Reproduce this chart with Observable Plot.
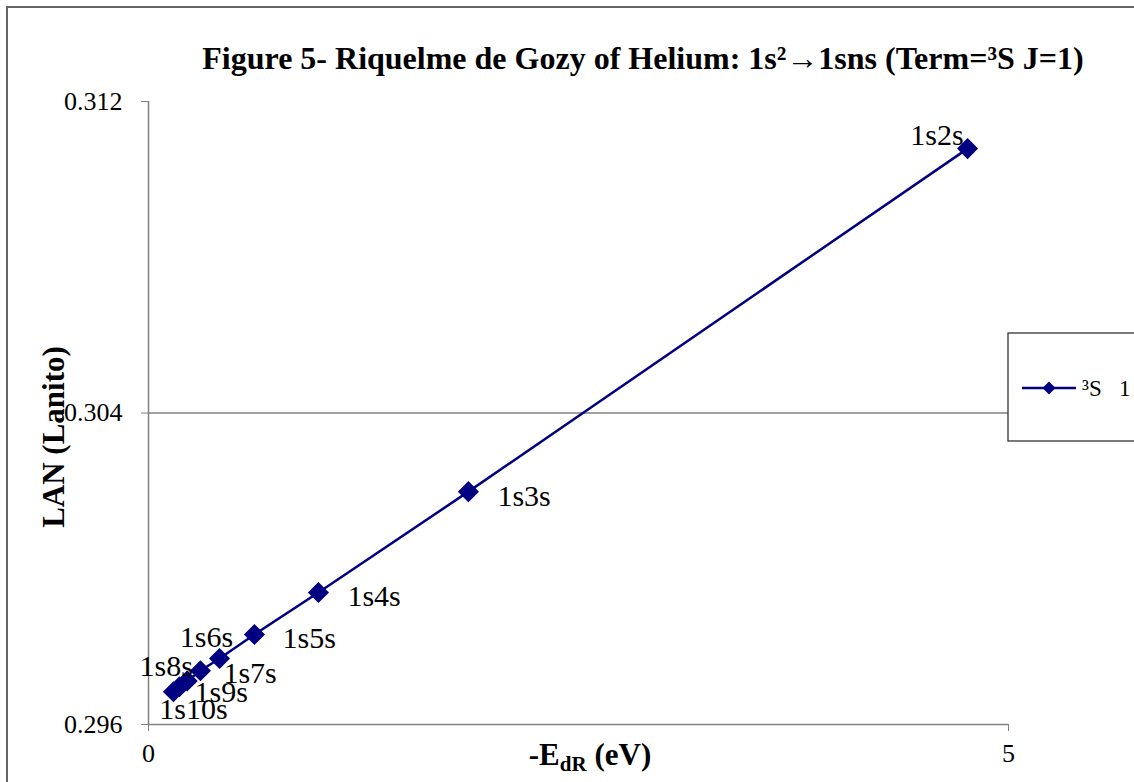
<!DOCTYPE html>
<html>
<head>
<meta charset="utf-8">
<script src="https://cdn.jsdelivr.net/npm/d3@7"></script>
<script src="https://cdn.jsdelivr.net/npm/@observablehq/plot@0.6"></script>
<style>
  html, body { margin: 0; padding: 0; background: white; }
  #chart svg { display: block; }
  #chart svg text { font-family: "Times New Roman", "Liberation Serif", Times, serif; }
</style>
</head>
<body>
<div id="chart"></div>
<script>
// ---- data ----
const states = ["1s2s", "1s3s", "1s4s", "1s5s", "1s6s", "1s7s", "1s8s", "1s9s", "1s10s"];
const energy = [4.762, 1.860, 0.988, 0.616, 0.413, 0.302, 0.225, 0.180, 0.145];   // -E_dR (eV)
const lan = [0.31079, 0.30198, 0.29939, 0.29831, 0.297695, 0.29738, 0.29712, 0.29697, 0.29684];
const xTicks = [0, 5];
const yTicks = [0.296, 0.304, 0.312];
const seriesName = "³S   1";

// label placement (style only)
const labelPlacement = [
  {anchor: "end",    dx: -4,  dy: -13},
  {anchor: "start",  dx: 29,  dy: 5},
  {anchor: "start",  dx: 29,  dy: 4},
  {anchor: "start",  dx: 28,  dy: 4},
  {anchor: "middle", dx: -13, dy: -21},
  {anchor: "start",  dx: 23,  dy: 3},
  {anchor: "middle", dx: -21, dy: -14},
  {anchor: "start",  dx: 15,  dy: 6},
  {anchor: "middle", dx: 20,  dy: 18}
];

const data = states.map((s, i) => ({state: s, x: energy[i], y: lan[i]}));
const navy = "#000080";
const axisGray = "#808080";
const serif = "Times New Roman, Liberation Serif, Times, serif";

const labelMarks = data.map((d, i) => Plot.text([d], {
  x: "x", y: "y", text: "state",
  textAnchor: labelPlacement[i].anchor,
  dx: labelPlacement[i].dx, dy: labelPlacement[i].dy,
  fontSize: 30, fill: "black"
}));

const svg = Plot.plot({
  width: 1134,
  height: 782,
  marginLeft: 148,
  marginRight: 126,
  marginTop: 101,
  marginBottom: 58,
  style: {fontFamily: serif, fontSize: "26px", background: "white", color: "black", overflow: "visible"},
  x: {domain: [0, 5]},
  y: {domain: [0.296, 0.312]},
  marks: [
    Plot.ruleY([0.304], {stroke: axisGray, strokeWidth: 1.3}),
    Plot.ruleX([0], {stroke: axisGray, strokeWidth: 1.5}),
    Plot.ruleY([0.296], {stroke: axisGray, strokeWidth: 1.5}),
    Plot.axisY({ticks: yTicks, tickSize: 7, tickPadding: 19, tickFormat: d => d.toFixed(3), stroke: axisGray, fill: "black", label: null, fontSize: 26}),
    Plot.axisX({ticks: xTicks, tickSize: 7, tickPadding: 12, tickFormat: d => String(d), stroke: axisGray, fill: "black", label: null, fontSize: 26}),
    Plot.line(data, {x: "x", y: "y", stroke: navy, strokeWidth: 2.5}),
    Plot.dot(data, {x: "x", y: "y", symbol: "diamond2", r: 9.5, fill: navy, stroke: "none"}),
    ...labelMarks
  ]
});

const s = d3.select(svg);

// outer chart border (top & left visible)
s.append("rect")
  .attr("x", 7).attr("y", 7).attr("width", 1200).attr("height", 900)
  .attr("fill", "none").attr("stroke", "#666").attr("stroke-width", 2);

// title
s.append("text")
  .attr("x", 643).attr("y", 69)
  .attr("text-anchor", "middle")
  .attr("font-weight", "bold").attr("font-size", 32)
  .attr("fill", "black")
  .text("Figure 5- Riquelme de Gozy of Helium: 1s²→1sns (Term=³S J=1)");

// x axis title
const xt = s.append("text")
  .attr("x", 590).attr("y", 765)
  .attr("text-anchor", "middle")
  .attr("font-weight", "bold").attr("font-size", 31)
  .attr("fill", "black");
xt.append("tspan").text("-E");
xt.append("tspan").attr("font-size", 21).attr("dy", 6).text("dR");
xt.append("tspan").attr("dy", -6).text(" (eV)");

// y axis title
s.append("text")
  .attr("transform", "translate(64,437) rotate(-90)")
  .attr("text-anchor", "middle")
  .attr("font-weight", "bold").attr("font-size", 31)
  .attr("fill", "black")
  .text("LAN (Lanito)");

// legend
const lg = s.append("g");
lg.append("rect")
  .attr("x", 1008).attr("y", 333).attr("width", 140).attr("height", 108)
  .attr("fill", "white").attr("stroke", "#333").attr("stroke-width", 1.3);
lg.append("line")
  .attr("x1", 1022).attr("x2", 1076).attr("y1", 388).attr("y2", 388)
  .attr("stroke", navy).attr("stroke-width", 2.5);
lg.append("path")
  .attr("d", "M1049,381.5L1055.5,388L1049,394.5L1042.5,388Z")
  .attr("fill", navy);
lg.append("text")
  .attr("x", 1082).attr("y", 388).attr("dy", "0.35em")
  .attr("text-anchor", "start")
  .attr("font-size", 23)
  .attr("fill", "black")
  .style("white-space", "pre")
  .text(seriesName);

document.getElementById("chart").appendChild(svg);
</script>
</body>
</html>
